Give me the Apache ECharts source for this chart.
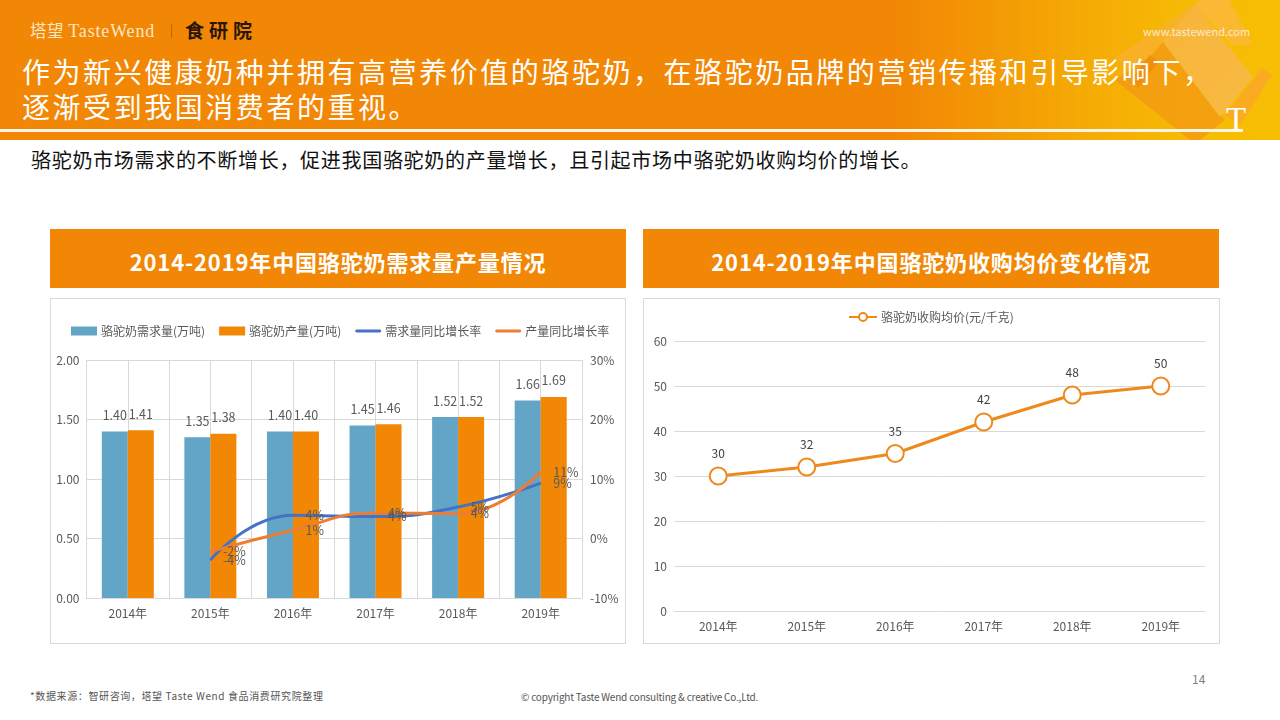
<!DOCTYPE html>
<html lang="zh"><head><meta charset="utf-8">
<script src="https://cdn.jsdelivr.net/npm/echarts@6/dist/echarts.min.js"></script>
<style>
html,body{margin:0;padding:0;width:1280px;height:720px;overflow:hidden;background:#fff;font-family:"Noto Sans CJK SC",sans-serif}
.a{position:absolute;white-space:nowrap}
#banner{left:0;top:0;width:1280px;height:140px;background:linear-gradient(90deg,#F28705 0,#F28705 70%,#F5A905 84%,#F7BC05 94%,#F7BE05 100%);overflow:hidden}
.s{position:absolute;left:0;top:0;width:1280px;height:140px}
.box{position:absolute;border:1px solid #d9d9d9;background:#fff;box-sizing:border-box}
.hd{position:absolute;background:#F28705;color:#fff;font-weight:700;font-size:22px;text-align:center;line-height:65px;height:59px;letter-spacing:.85px;overflow:hidden}
#c{position:absolute;left:0;top:0;width:1280px;height:720px}
</style></head><body>
<div id="banner" class="a">
<div class="s" style="background:#F8B032;opacity:.75;clip-path:polygon(1115px 58px,1200px 0,1232px 0,1163px 42px,1135px 72px)"></div>
<div class="s" style="background:#F29A12;opacity:.8;clip-path:polygon(1115px 80px,1152px 55px,1163px 42px,1225px 120px,1200px 140px,1190px 140px)"></div>
<div class="s" style="background:#EE8A0E;opacity:.75;clip-path:polygon(1132px 78px,1150px 55px,1158px 62px,1138px 88px)"></div>
<div class="s" style="background:linear-gradient(135deg,#EE7E0A 0,#F4A828 55%,#F9BC45 100%);clip-path:polygon(1163px 42px,1195px 5px,1253px 77px,1220px 117px)"></div>
<div class="s" style="background:#FAB93A;opacity:.85;clip-path:polygon(1195px 5px,1200px 0,1232px 0,1230px 2px,1253px 45px,1232px 45px)"></div>
<div class="s" style="background:#F9A825;opacity:.9;clip-path:polygon(1225px 115px,1262px 68px,1272px 75px,1240px 125px)"></div>
</div>
<div class="a" style="left:30px;top:19px;color:#FDE6C4;font-size:16.5px;line-height:22px;letter-spacing:.5px">塔望 <span style="font-family:'Liberation Serif',serif;font-size:18px;letter-spacing:.85px">TasteWend</span></div>
<div class="a" style="left:171px;top:24px;width:1px;height:14px;background:#B96A0A"></div>
<div class="a" style="left:185px;top:17px;color:#2b1605;font-size:19px;line-height:26px;font-weight:700;letter-spacing:5px">食研院</div>
<div class="a" style="left:1143px;top:24px;color:#FCEBD0;font-size:11px;line-height:15px">www.tastewend.com</div>
<div class="a" style="left:22px;top:54px;color:#fff;font-size:28px;line-height:35px;letter-spacing:2.55px">作为新兴健康奶种并拥有高营养价值的骆驼奶，在骆驼奶品牌的营销传播和引导影响下，<br>逐渐受到我国消费者的重视。</div>
<div class="a" style="left:0;top:129px;width:1243px;height:3px;background:#FFF6E6"></div>
<div class="a" style="left:1226px;top:100px;color:#fff;font-family:'Liberation Serif',serif;font-size:33px;line-height:38px">T</div>
<div class="a" style="left:31px;top:146px;color:#111;font-size:20px;line-height:28px;letter-spacing:.7px">骆驼奶市场需求的不断增长，促进我国骆驼奶的产量增长，且引起市场中骆驼奶收购均价的增长。</div>
<div class="hd" style="left:50px;top:229px;width:576px">2014-2019年中国骆驼奶需求量产量情况</div>
<div class="hd" style="left:643px;top:229px;width:576px">2014-2019年中国骆驼奶收购均价变化情况</div>
<div class="box" style="left:50px;top:298px;width:576px;height:346px"></div>
<div class="box" style="left:643px;top:298px;width:577px;height:346px"></div>
<div class="a" style="left:30px;top:689px;color:#555;font-size:10px;line-height:14px;letter-spacing:.62px;font-family:'Noto Sans CJK SC','DejaVu Sans Mono',monospace">*数据来源：智研咨询，塔望 Taste Wend 食品消费研究院整理</div>
<div class="a" style="left:521px;top:690px;color:#555;font-size:10px;line-height:14px;letter-spacing:-.2px">© copyright Taste Wend consulting &amp; creative Co.,Ltd.</div>
<div class="a" style="left:1192px;top:671px;color:#7f7f7f;font-size:12px;line-height:16px">14</div>
<div id="c"></div>
<script>
var categories=['2014年','2015年','2016年','2017年','2018年','2019年'];
var demand=[1.40,1.35,1.40,1.45,1.52,1.66];
var output=[1.41,1.38,1.40,1.46,1.52,1.69];
var demandGrowth=[null,-3.6,3.9,3.7,5.3,9.3];
var outputGrowth=[null,-2.2,1.4,4.3,4.2,11.2];
var price=[30,32,35,42,48,50];
var TXT='#595959',GRID='#d9d9d9',FONT='"Noto Sans CJK SC",sans-serif';
var LINE_ICON='path://M1 3.5H25A1 1 0 0 1 25 6.5H1A1 1 0 0 1 1 3.5Z';
function pct(p){return Math.round(p.value)+'%';}
function growth(name,data,color){return{name:name,type:'line',xAxisIndex:0,yAxisIndex:1,data:data,smooth:.5,
  showSymbol:true,symbol:'circle',symbolSize:1,z:5,
  lineStyle:{color:color,width:3},itemStyle:{color:color},
  label:{show:true,position:'right',distance:12,color:TXT,fontSize:12.5,formatter:pct},labelLayout:{hideOverlap:false}};}
function bar(name,data,color){return{name:name,type:'bar',xAxisIndex:0,yAxisIndex:0,data:data,barWidth:26,barGap:0,itemStyle:{color:color},
  label:{show:true,position:'top',distance:10,color:TXT,fontSize:12.5,formatter:function(p){return p.value.toFixed(2);}}};}
var chart=echarts.init(document.getElementById('c'));
chart.setOption({
 animation:false,backgroundColor:'transparent',textStyle:{fontFamily:FONT},
 legend:[
  {left:66,top:320,itemWidth:26,itemHeight:9,itemGap:14,textStyle:{color:TXT,fontSize:12,padding:[0,0,0,-1]},
   data:[{name:'骆驼奶需求量(万吨)',icon:'rect'},{name:'骆驼奶产量(万吨)',icon:'rect'},
         {name:'需求量同比增长率',icon:LINE_ICON},{name:'产量同比增长率',icon:LINE_ICON}]},
  {left:843,top:306,itemWidth:28,itemHeight:10,textStyle:{color:TXT,fontSize:12,padding:[0,0,0,-1]},data:['骆驼奶收购均价(元/千克)']}
 ],
 grid:[{left:86.5,top:360,width:495.5,height:238},{left:674,top:341,width:531,height:270}],
 xAxis:[
  {type:'category',gridIndex:0,data:categories,axisTick:{show:false},axisLine:{lineStyle:{color:GRID}},
   axisLabel:{color:TXT,fontSize:12,margin:9},splitLine:{show:false}},
  {type:'value',gridIndex:0,position:'top',min:0,max:12,interval:1,axisLine:{show:false},axisTick:{show:false},axisLabel:{show:false},
   splitLine:{show:true,lineStyle:{color:GRID,width:1}}},
  {type:'category',gridIndex:1,data:categories,axisTick:{show:false},axisLine:{lineStyle:{color:GRID}},
   axisLabel:{color:TXT,fontSize:12,margin:9}}
 ],
 yAxis:[
  {type:'value',gridIndex:0,min:0,max:2,interval:.5,axisLine:{show:false},axisTick:{show:false},
   axisLabel:{color:TXT,fontSize:12,margin:7,formatter:function(v){return v.toFixed(2);}},splitLine:{lineStyle:{color:GRID}}},
  {type:'value',gridIndex:0,position:'right',min:-10,max:30,interval:10,axisLine:{show:false},axisTick:{show:false},
   axisLabel:{color:TXT,fontSize:12,margin:8,formatter:'{value}%'},splitLine:{show:false}},
  {type:'value',gridIndex:1,min:0,max:60,interval:10,axisLine:{show:false},axisTick:{show:false},
   axisLabel:{color:TXT,fontSize:12,margin:7},splitLine:{lineStyle:{color:GRID}}}
 ],
 series:[
  bar('骆驼奶需求量(万吨)',demand,'#62A5C6'),
  bar('骆驼奶产量(万吨)',output,'#F28705'),
  growth('需求量同比增长率',demandGrowth,'#4472C4'),
  growth('产量同比增长率',outputGrowth,'#ED7D31'),
  {name:'骆驼奶收购均价(元/千克)',type:'line',xAxisIndex:2,yAxisIndex:2,data:price,symbol:'circle',symbolSize:17,
   lineStyle:{color:'#EE8A1D',width:3},itemStyle:{color:'#fff',borderColor:'#EE8A1D',borderWidth:2},
   label:{show:true,position:'top',distance:7,color:'#404040',fontSize:12}}
 ]
});
</script>
</body></html>
